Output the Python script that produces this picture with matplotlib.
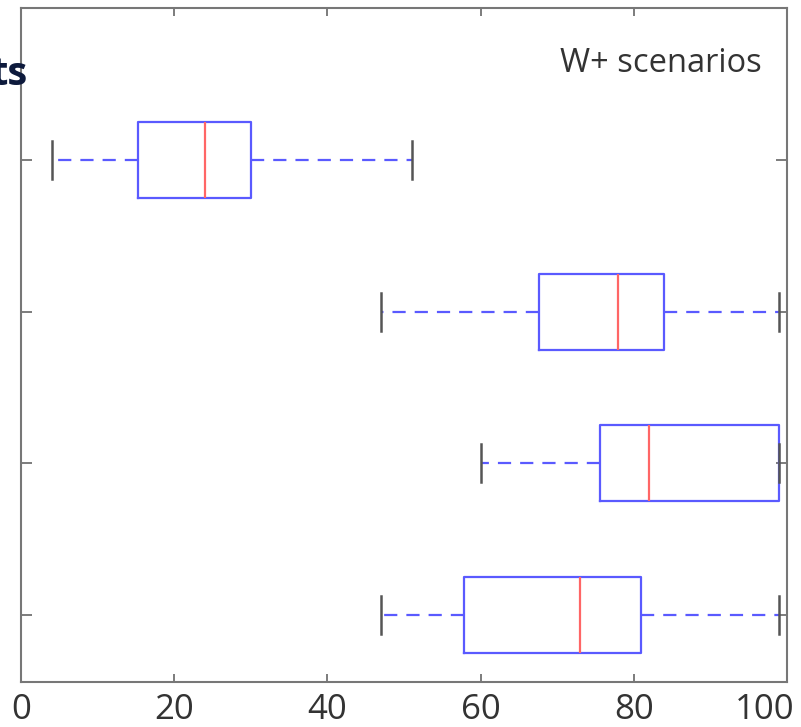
import matplotlib.pyplot as plt
from matplotlib.transforms import ScaledTranslation

plt.rcParams['lines.scale_dashes'] = False

# one box per scenario group, listed bottom to top
positions = [1, 2, 3, 4]
whislo = [47, 60, 47, 4]
q1 = [57.8, 75.6, 67.6, 15.3]
med = [73, 82, 78, 24]
q3 = [81, 99, 84, 30]
whishi = [99, 99, 99, 51]

xticks = [0, 20, 40, 60, 80, 100]

stats = []
for lo, a, m, b, hi in zip(whislo, q1, med, q3, whishi):
    stats.append({'whislo': lo, 'q1': a, 'med': m, 'q3': b, 'whishi': hi, 'fliers': []})

fig = plt.figure(figsize=(8.01, 7.27), dpi=100)
ax = fig.add_axes([21 / 801, 1 - 682 / 727, 766 / 801, 674 / 727])

blue = '#5a5aff'
ax.bxp(stats, positions=positions, vert=False, widths=0.5, showfliers=False,
       boxprops=dict(color=blue, linewidth=1.6),
       medianprops=dict(color='#ff6666', linewidth=1.6),
       whiskerprops=dict(color=blue, linewidth=1.6, linestyle=(0, (9.5, 6.5))),
       capprops=dict(color='#555555', linewidth=1.8),
       capwidths=0.25)

ax.set_xlim(0, 100)
ax.set_ylim(0.56, 5.0)
ax.set_xticks(xticks)
ax.set_xticklabels([str(t) for t in xticks])
ax.set_yticks(positions)
ax.set_yticklabels([])

for s in ax.spines.values():
    s.set_color('#777777')
    s.set_linewidth(1.5)

ax.tick_params(axis='x', direction='in', top=True, length=6, width=1.2, color='#666666',
               pad=8, labelsize=25, labelcolor='#333333')
ax.tick_params(axis='y', direction='in', right=True, length=8, width=1.2, color='#666666')
for lbl in ax.get_xticklabels():
    lbl.set_family(['Open Sans', 'DejaVu Sans'])

# keep the last label inside the figure
last = ax.get_xticklabels()[-1]
last.set_horizontalalignment('right')
last.set_transform(last.get_transform() + ScaledTranslation(7 / 100, 0, fig.dpi_scale_trans))

fig.text(27 / 801, 1 - 85 / 727, 'ts', ha='right', va='baseline', fontsize=29,
         fontweight='bold', color='#0d1a3c', family=['Open Sans', 'DejaVu Sans'])
fig.text(762 / 801, 1 - 72 / 727, 'W+ scenarios', ha='right', va='baseline', fontsize=23.5,
         color='#333333', family=['Open Sans', 'DejaVu Sans'])

fig.savefig('out.png', dpi=100)
